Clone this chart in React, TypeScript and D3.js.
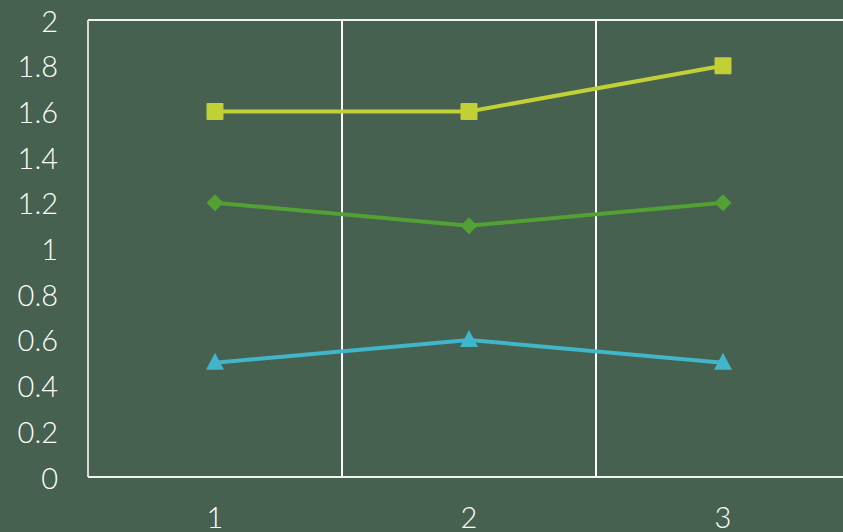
import React from "react";
import * as d3 from "d3";

const categories = ["1", "2", "3"];
const seriesSquare = [1.6, 1.6, 1.8];
const seriesDiamond = [1.2, 1.1, 1.2];
const seriesTriangle = [0.5, 0.6, 0.5];
const yTicks = [0, 0.2, 0.4, 0.6, 0.8, 1, 1.2, 1.4, 1.6, 1.8, 2];

const W = 843, H = 532;
const left = 88, top = 20, bottom = 477, right = 850;

export default function App() {
  const x = d3.scaleBand<string>().domain(categories).range([left, right]).padding(0);
  const y = d3.scaleLinear().domain([0, 2]).range([bottom, top]);
  const cx = (c: string) => (x(c) as number) + x.bandwidth() / 2;
  const line = d3.line<number>().x((_, i) => cx(categories[i])).y((d) => y(d));
  const font = "'Lato', 'DejaVu Sans', sans-serif";
  const series = [
    { data: seriesTriangle, color: "#41b5ca", shape: "tri" },
    { data: seriesDiamond, color: "#53a035", shape: "dia" },
    { data: seriesSquare, color: "#c1d036", shape: "sq" },
  ];
  const marker = (shape: string, px: number, py: number, color: string, k: number) => {
    if (shape === "sq") return <rect key={k} x={px - 8.5} y={py - 8.5} width={17} height={17} fill={color} rx={1} />;
    if (shape === "dia") return <path key={k} d={`M${px},${py - 8.5}L${px + 8.5},${py}L${px},${py + 8.5}L${px - 8.5},${py}Z`} fill={color} />;
    return <path key={k} d={`M${px},${py - 10}L${px + 9},${py + 7}L${px - 9},${py + 7}Z`} fill={color} />;
  };
  return (
    <svg width={W} height={H} style={{ position: "absolute", left: 0, top: 0, display: "block" }}>
      <rect x={0} y={0} width={W} height={H} fill="#466150" />
      {categories.slice(1).map((c) => (
        <line key={c} x1={x(c)} x2={x(c)} y1={top} y2={bottom} stroke="#ffffff" strokeWidth={2} />
      ))}
      <line x1={left} x2={right} y1={top} y2={top} stroke="#f2f2f2" strokeWidth={2} />
      <line x1={left} x2={left} y1={top} y2={bottom} stroke="#d9d9d9" strokeWidth={2} />
      <line x1={left} x2={right} y1={bottom} y2={bottom} stroke="#f2f2f2" strokeWidth={2} />
      {yTicks.map((t) => (
        <text key={t} x={58} y={y(t)} textAnchor="end" dominantBaseline="central" fill="#ffffff" fontFamily={font} fontWeight={300} fontSize={29}>
          {String(t)}
        </text>
      ))}
      {categories.map((c) => (
        <text key={c} x={cx(c)} y={516} textAnchor="middle" dominantBaseline="central" fill="#ffffff" fontFamily={font} fontWeight={300} fontSize={29}>
          {c}
        </text>
      ))}
      {series.map((s, si) => (
        <g key={si}>
          <path d={line(s.data) || ""} fill="none" stroke={s.color} strokeWidth={4} />
          {s.data.map((v, i) => marker(s.shape, cx(categories[i]), y(v), s.color, i))}
        </g>
      ))}
    </svg>
  );
}
